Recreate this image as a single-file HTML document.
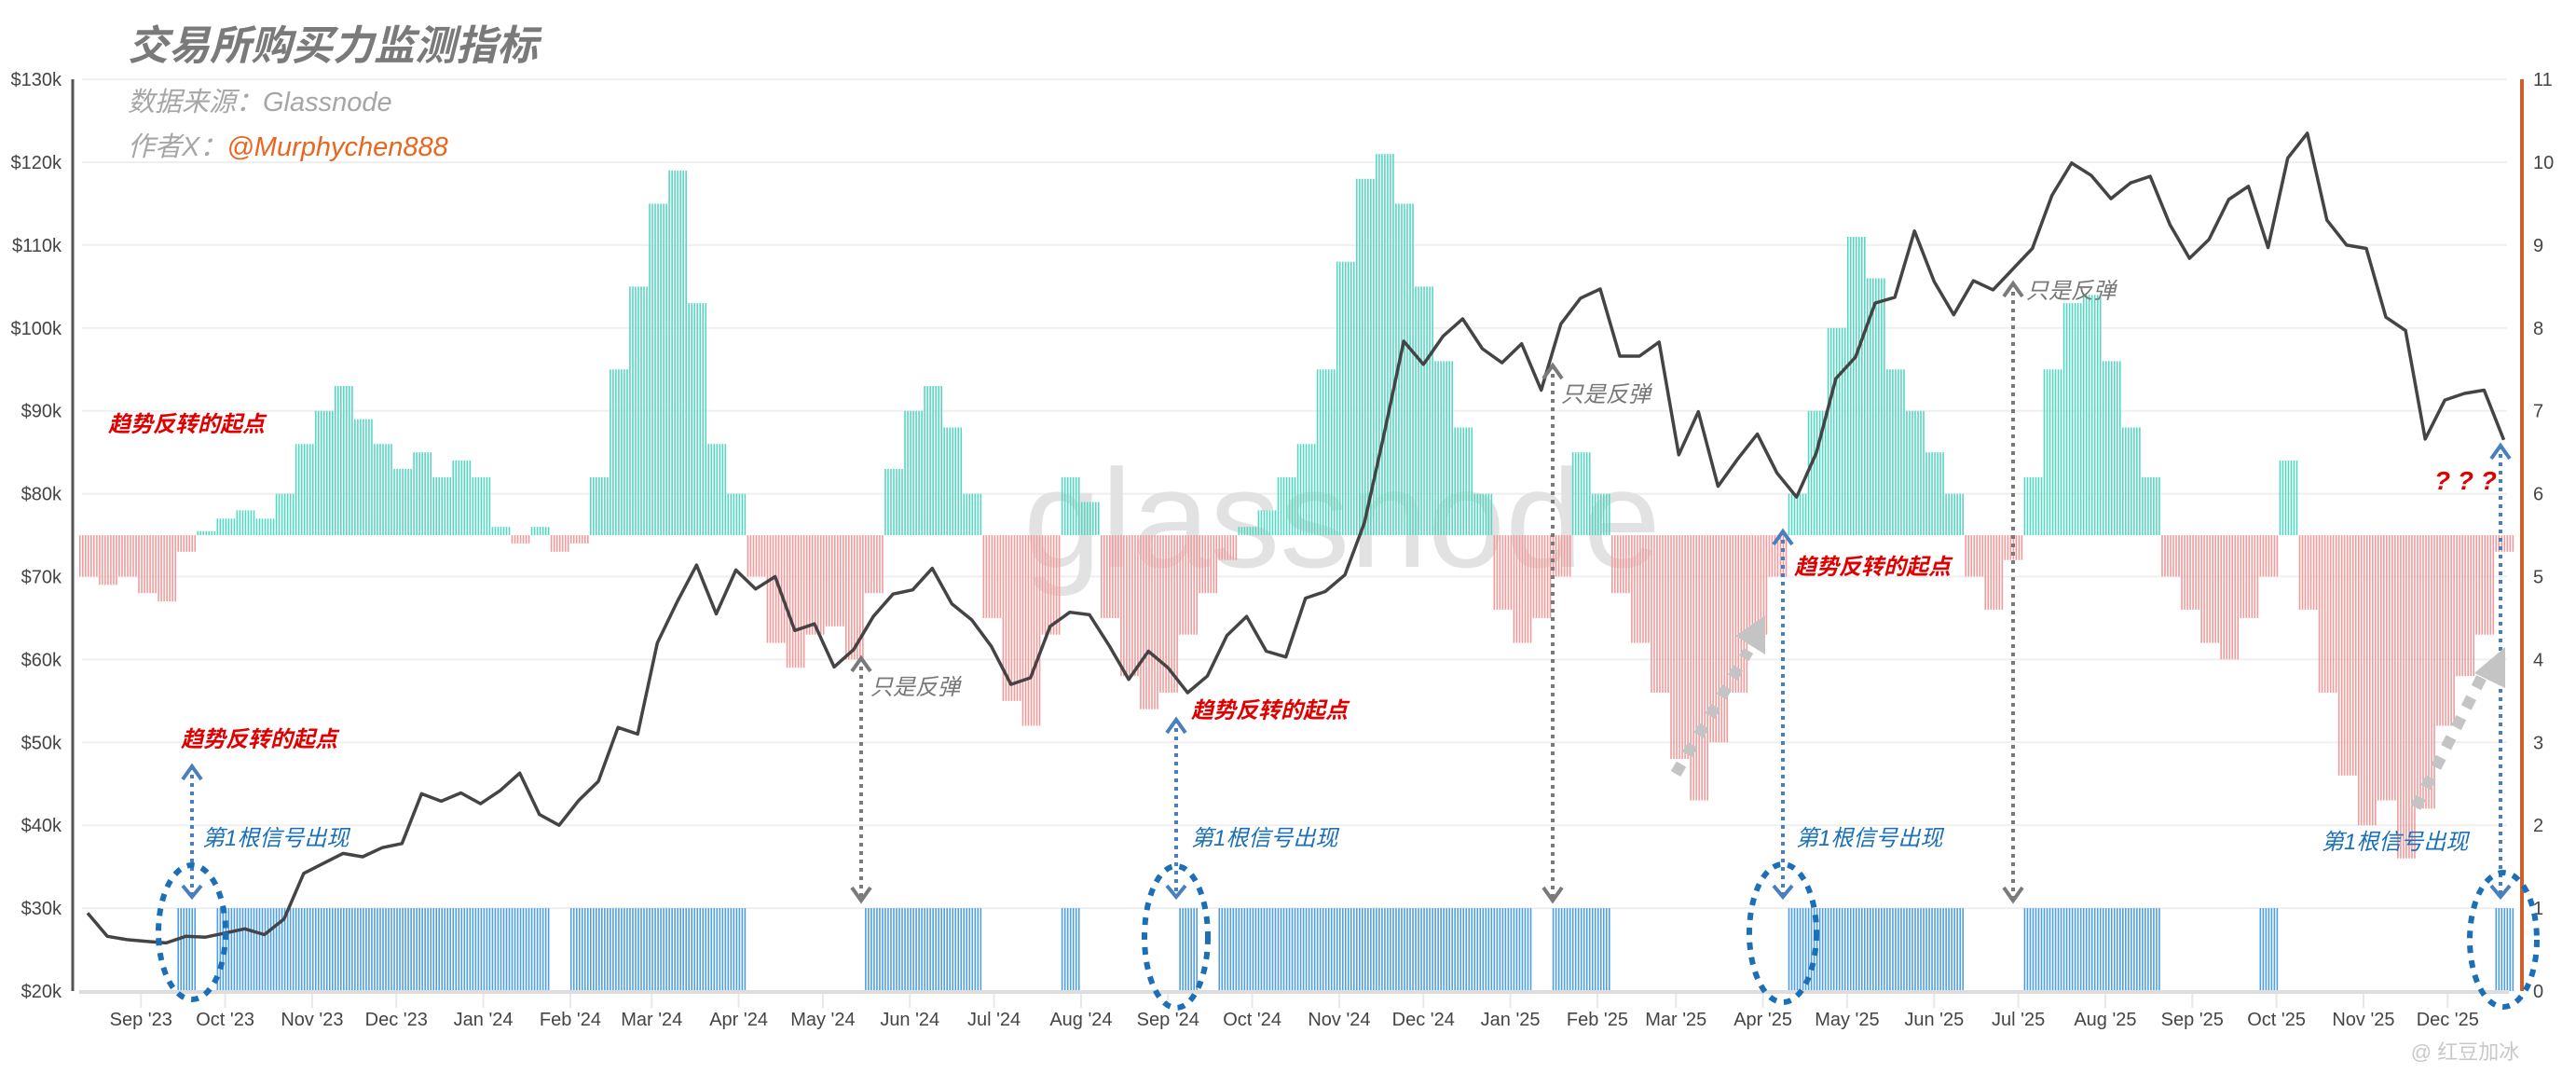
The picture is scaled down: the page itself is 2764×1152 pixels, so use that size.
<!DOCTYPE html>
<html><head><meta charset="utf-8"><style>
html,body{margin:0;padding:0;background:#fff;}
svg{display:block;font-family:"Liberation Sans","Noto Sans CJK SC",sans-serif;}
</style></head><body>
<svg id="chart" width="2764" height="1152" viewBox="0 0 2764 1152" xmlns="http://www.w3.org/2000/svg">
<g id="grid"></g>
<text x="1440" y="608" font-size="150" fill="#e2e2e2" text-anchor="middle">glassnode</text>
<g id="ind"></g>
<g id="sig"></g>
<g id="price"></g>
<g id="axes"></g>
<g id="ann">
<text x="137" y="64" font-size="44" font-weight="bold" font-style="italic" fill="#7a7a7a">交易所购买力监测指标</text>
<text x="137" y="119" font-size="29" font-style="italic" fill="#a6a6a6">数据来源：Glassnode</text>
<text x="137" y="167" font-size="29" font-style="italic" fill="#a6a6a6">作者X：<tspan fill="#e8661e">@Murphychen888</tspan></text>
<g font-size="24" font-style="italic" font-weight="bold" fill="#e00000">
<text x="116" y="463">趋势反转的起点</text>
<text x="194" y="801">趋势反转的起点</text>
<text x="1278" y="770">趋势反转的起点</text>
<text x="1925" y="616">趋势反转的起点</text>
<text x="2612" y="525" font-size="28">? ? ?</text>
</g>
<g font-size="24" font-style="italic" fill="#1a6fb8">
<text x="217" y="907">第1根信号出现</text>
<text x="1278" y="907">第1根信号出现</text>
<text x="1927" y="907">第1根信号出现</text>
<text x="2491" y="911">第1根信号出现</text>
</g>
<g font-size="24" font-style="italic" fill="#777">
<text x="934" y="745">只是反弹</text>
<text x="1675" y="431">只是反弹</text>
<text x="2174" y="320">只是反弹</text>
</g>
<g fill="none" stroke-width="4" stroke-dasharray="4 5">
<line x1="206" y1="822" x2="206" y2="960" stroke="#4a7fbf"/>
<line x1="1262" y1="772" x2="1262" y2="960" stroke="#4a7fbf"/>
<line x1="1913" y1="570" x2="1913" y2="960" stroke="#4a7fbf"/>
<line x1="2683" y1="478" x2="2683" y2="960" stroke="#4a7fbf"/>
<line x1="924" y1="706" x2="924" y2="965" stroke="#7a7a7a"/>
<line x1="1666" y1="392" x2="1666" y2="965" stroke="#7a7a7a"/>
<line x1="2160" y1="304" x2="2160" y2="965" stroke="#7a7a7a"/>
</g>
<g fill="none" stroke-width="4">
<polyline points="196,836 206,822 216,836" stroke="#4a7fbf"/><polyline points="196,950 206,962 216,950" stroke="#4a7fbf"/>
<polyline points="1252,786 1262,772 1272,786" stroke="#4a7fbf"/><polyline points="1252,950 1262,962 1272,950" stroke="#4a7fbf"/>
<polyline points="1903,584 1913,570 1923,584" stroke="#4a7fbf"/><polyline points="1903,950 1913,962 1923,950" stroke="#4a7fbf"/>
<polyline points="2673,492 2683,478 2693,492" stroke="#4a7fbf"/><polyline points="2673,950 2683,962 2693,950" stroke="#4a7fbf"/>
<polyline points="914,720 924,706 934,720" stroke="#7a7a7a"/><polyline points="914,952 924,966 934,952" stroke="#7a7a7a"/>
<polyline points="1656,406 1666,392 1676,406" stroke="#7a7a7a"/><polyline points="1656,952 1666,966 1676,952" stroke="#7a7a7a"/>
<polyline points="2150,318 2160,304 2170,318" stroke="#7a7a7a"/><polyline points="2150,952 2160,966 2170,952" stroke="#7a7a7a"/>
</g>
<g fill="none" stroke="#1a6fb8" stroke-width="6" stroke-dasharray="8 8">
<ellipse cx="206" cy="1000" rx="36" ry="72"/>
<ellipse cx="1262" cy="1005" rx="34" ry="76"/>
<ellipse cx="1913" cy="1001" rx="36" ry="74"/>
<ellipse cx="2686" cy="1008" rx="36" ry="72"/>
</g>
<g>
<line x1="1798" y1="830" x2="1876" y2="698" stroke="#c4c4c4" stroke-width="12" stroke-dasharray="12 12"/>
<polygon points="1894,660 1894,702 1862,682" fill="#c4c4c4"/></g>
<g>
<line x1="2592" y1="866" x2="2668" y2="716" stroke="#c4c4c4" stroke-width="12" stroke-dasharray="12 12"/>
<polygon points="2688,694 2688,738 2655,722" fill="#c4c4c4"/></g>
<text x="2645" y="1136" font-size="22" fill="#c8c8c8" text-anchor="middle">@ 红豆加冰</text>
</g>
</svg>
<script>
const priceK=[29.4,26.6,26.2,26.0,25.8,26.6,26.5,27.0,27.5,26.8,28.7,34.2,35.4,36.6,36.2,37.3,37.8,43.8,42.9,43.9,42.6,44.2,46.3,41.3,40.0,43.0,45.3,51.8,51.0,62.0,66.9,71.4,65.5,70.8,68.5,70.0,63.5,64.3,59.1,61.2,65.2,67.9,68.4,71.0,66.7,64.8,61.6,57.0,57.8,64.0,65.7,65.4,61.7,57.6,61.0,59.0,56.0,58.0,62.9,65.2,61.0,60.3,67.4,68.2,70.2,76.5,87.2,98.4,95.6,99.0,101.1,97.5,95.8,98.1,92.5,100.5,103.6,104.7,96.6,96.6,98.3,84.7,89.9,80.9,84.2,87.2,82.5,79.6,84.9,93.9,96.5,103.0,103.7,111.7,105.6,101.6,105.7,104.6,107.1,109.6,116.0,119.9,118.4,115.6,117.5,118.3,112.5,108.4,110.7,115.5,117.1,109.7,120.5,123.5,113.0,110.0,109.6,101.3,99.7,86.6,91.3,92.1,92.5,86.5];
const indicator=[5.0,4.9,5.0,4.8,4.7,5.3,5.55,5.7,5.8,5.7,6.0,6.6,7.0,7.3,6.9,6.6,6.3,6.5,6.2,6.4,6.2,5.6,5.4,5.6,5.3,5.4,6.2,7.5,8.5,9.5,9.9,8.3,6.6,6.0,5.0,4.2,3.9,4.3,4.4,4.0,4.8,6.3,7.0,7.3,6.8,6.0,4.5,3.5,3.2,4.3,6.2,5.9,4.5,3.8,3.4,3.6,4.3,4.8,5.2,5.6,5.8,6.2,6.6,7.5,8.8,9.8,10.1,9.5,8.5,7.6,6.8,6.0,4.6,4.2,4.5,5.0,6.5,6.0,4.8,4.2,3.6,2.8,2.3,3.0,3.6,4.3,5.0,6.0,7.0,8.0,9.1,8.6,7.5,7.0,6.5,6.0,5.0,4.6,5.2,6.2,7.5,8.3,8.4,7.6,6.8,6.2,5.0,4.6,4.2,4.0,4.5,5.0,6.4,4.6,3.6,2.6,2.0,2.3,1.6,2.2,3.2,3.8,4.3,5.3];
const signal=[0,0,0,0,0,1,0,1,1,1,1,1,1,1,1,1,1,1,1,1,1,1,1,1,0,1,1,1,1,1,1,1,1,1,0,0,0,0,0,0,1,1,1,1,1,1,0,0,0,0,1,0,0,0,0,0,1,0,1,1,1,1,1,1,1,1,1,1,1,1,1,1,1,1,0,1,1,1,0,0,0,0,0,0,0,0,0,1,1,1,1,1,1,1,1,1,0,0,0,1,1,1,1,1,1,1,0,0,0,0,0,1,0,0,0,0,0,0,0,0,0,0,0,1];
const yTicksK=[20,30,40,50,60,70,80,90,100,110,120,130];
const rTicks=[0,1,2,3,4,5,6,7,8,9,10,11];
const monthLabels=["Sep '23","Oct '23","Nov '23","Dec '23","Jan '24","Feb '24","Mar '24","Apr '24","May '24","Jun '24","Jul '24","Aug '24","Sep '24","Oct '24","Nov '24","Dec '24","Jan '25","Feb '25","Mar '25","Apr '25","May '25","Jun '25","Jul '25","Aug '25","Sep '25","Oct '25","Nov '25","Dec '25"];
const NS="http://www.w3.org/2000/svg";
const start=Date.UTC(2023,7,10), PX_DAY=3.011, X0=85, YB=1063, UNIT=88.9;
const xDay=d=>X0+d*PX_DAY;
const yP=k=>YB-(k-20)/10*UNIT;
const yR=v=>YB-v*UNIT;
function mk(tag,attrs,parent){const e=document.createElementNS(NS,tag);for(const k in attrs)e.setAttribute(k,attrs[k]);parent.appendChild(e);return e;}
const grid=document.getElementById('grid'),axes=document.getElementById('axes');
yTicksK.forEach(k=>{
  const l=mk('line',{x1:88,x2:2690,y1:yP(k),y2:yP(k),stroke:'#efefef','stroke-width':2},grid);
  
  
  const t=mk('text',{x:66,y:yP(k)+7,'text-anchor':'end','font-size':20,fill:'#444'},axes);
  t.textContent='$'+k+'k';
  
  
});
rTicks.forEach(v=>{
  const t=mk('text',{x:2718,y:yR(v)+7,'font-size':20,fill:'#444'},axes);
  t.textContent=v;
  
  
});
monthLabels.forEach((m,i)=>{
  const d=(Date.UTC(2023,8+i,1)-start)/864e5, x=xDay(d);
  const tk=mk('line',{x1:x,x2:x,y1:YB,y2:YB+18,stroke:'#e8e8e8','stroke-width':2},axes);
  
  
  const t=mk('text',{x:x,y:1100,'text-anchor':'middle','font-size':20,fill:'#444'},axes);
  t.textContent=m;
  
  
});
const la=mk('line',{x1:78,x2:78,y1:85,y2:1063,stroke:'#555','stroke-width':3},axes);


const ba=mk('line',{x1:85,x2:2692,y1:1064,y2:1064,stroke:'#ddd','stroke-width':4},axes);


const ra=mk('line',{x1:2706,x2:2706,y1:85,y2:1063,stroke:'#d0602a','stroke-width':4},axes);


const ind=document.getElementById('ind'),sig=document.getElementById('sig');
const base=yR(5.5);
indicator.forEach((v,i)=>{
  for(let k=0;k<7;k++){
    const x=xDay(i*7+k);
    const top=Math.min(yR(v),base), h=Math.abs(yR(v)-base);
    const r=mk('rect',{x:x,y:top,width:1.6,height:Math.max(h,1),fill:v>=5.5?'#55d8c2':'#f39b9b'},ind);
    
    
  }
});
signal.forEach((s,i)=>{
  if(!s)return;
  for(let k=0;k<7;k++){
    const r=mk('rect',{x:xDay(i*7+k),y:yR(1),width:1.6,height:UNIT,fill:'#4f9fe2'},sig);
    
    
  }
});
const pts=priceK.map((p,i)=>xDay(i*7+3).toFixed(1)+','+yP(p).toFixed(1)).join(' ');
const pl=mk('polyline',{points:pts,fill:'none',stroke:'#444','stroke-width':3.5,'stroke-linejoin':'round'},document.getElementById('price'));


</script>
</body></html>
